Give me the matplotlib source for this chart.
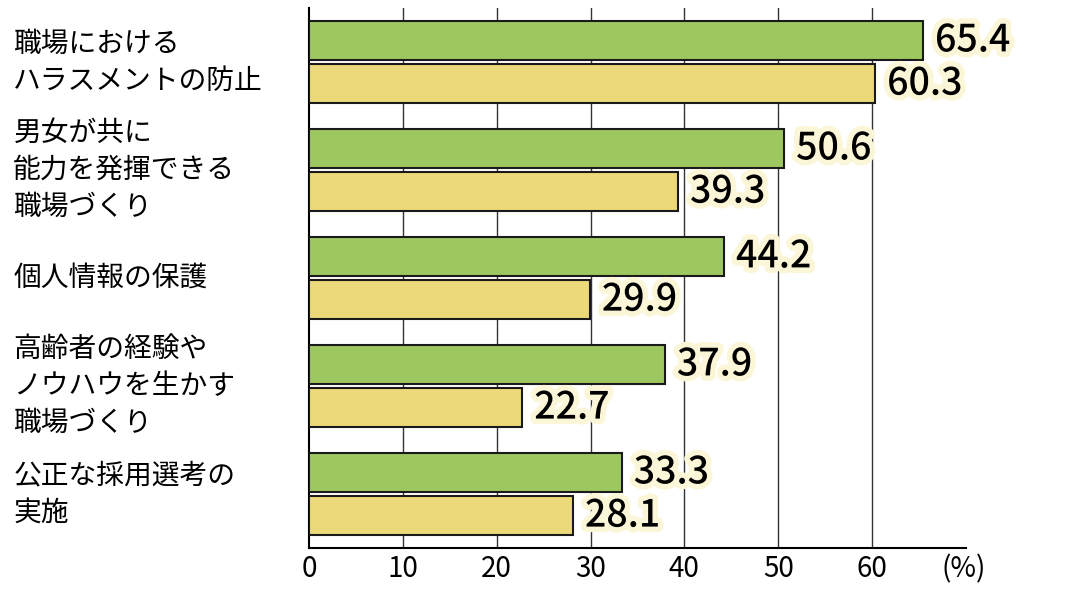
import numpy as np
import matplotlib.pyplot as plt
import matplotlib.patheffects as pe

plt.rcParams['font.family'] = ['Noto Sans CJK JP', 'DejaVu Sans']

categories = [
    "職場における\nハラスメントの防止",
    "男女が共に\n能力を発揮できる\n職場づくり",
    "個人情報の保護",
    "高齢者の経験や\nノウハウを生かす\n職場づくり",
    "公正な採用選考の\n実施",
]
green_values = [65.4, 50.6, 44.2, 37.9, 33.3]
yellow_values = [60.3, 39.3, 29.9, 22.7, 28.1]

fig = plt.figure(figsize=(10.7, 5.99), dpi=100)
ax = fig.add_axes([309 / 1070, 51 / 599, 657 / 1070, 540 / 599])

n = len(categories)
y = np.arange(n)
h = 0.355
off = 0.2
ax.barh(y - off, green_values, height=h, color="#9dc75f", edgecolor="#1a1a1a", linewidth=1.5, zorder=3)
ax.barh(y + off, yellow_values, height=h, color="#ebd97a", edgecolor="#1a1a1a", linewidth=1.5, zorder=3)

glow = [pe.withStroke(linewidth=8, foreground="#fcf6d8")]
for yy, v in zip(y - off, green_values):
    ax.text(v + 1.3, yy, f"{v:.1f}", va="center", ha="left", fontsize=27,
            fontweight="medium", path_effects=glow, zorder=4)
for yy, v in zip(y + off, yellow_values):
    ax.text(v + 1.3, yy, f"{v:.1f}", va="center", ha="left", fontsize=27,
            fontweight="medium", path_effects=glow, zorder=4)

ax.set_xlim(0, 70)
ax.set_ylim(n - 0.5, -0.5)
ax.set_xticks(range(0, 70, 10))
ax.tick_params(axis="x", length=0, labelsize=20, pad=4)
ax.set_yticks([])
for x in range(10, 70, 10):
    ax.axvline(x, color="#333333", linewidth=1, zorder=1)
for s in ["top", "right"]:
    ax.spines[s].set_visible(False)
ax.spines["left"].set_linewidth(1.5)
ax.spines["bottom"].set_linewidth(1.5)

for yy, c in zip(y, categories):
    ax.text(-31.5, yy, c, va="center", ha="left", fontsize=20, linespacing=1.3)

ax.text(1.03, -0.012, "(%)", transform=ax.transAxes, ha="right", va="top", fontsize=20)

fig.savefig("out.png", dpi=100)
